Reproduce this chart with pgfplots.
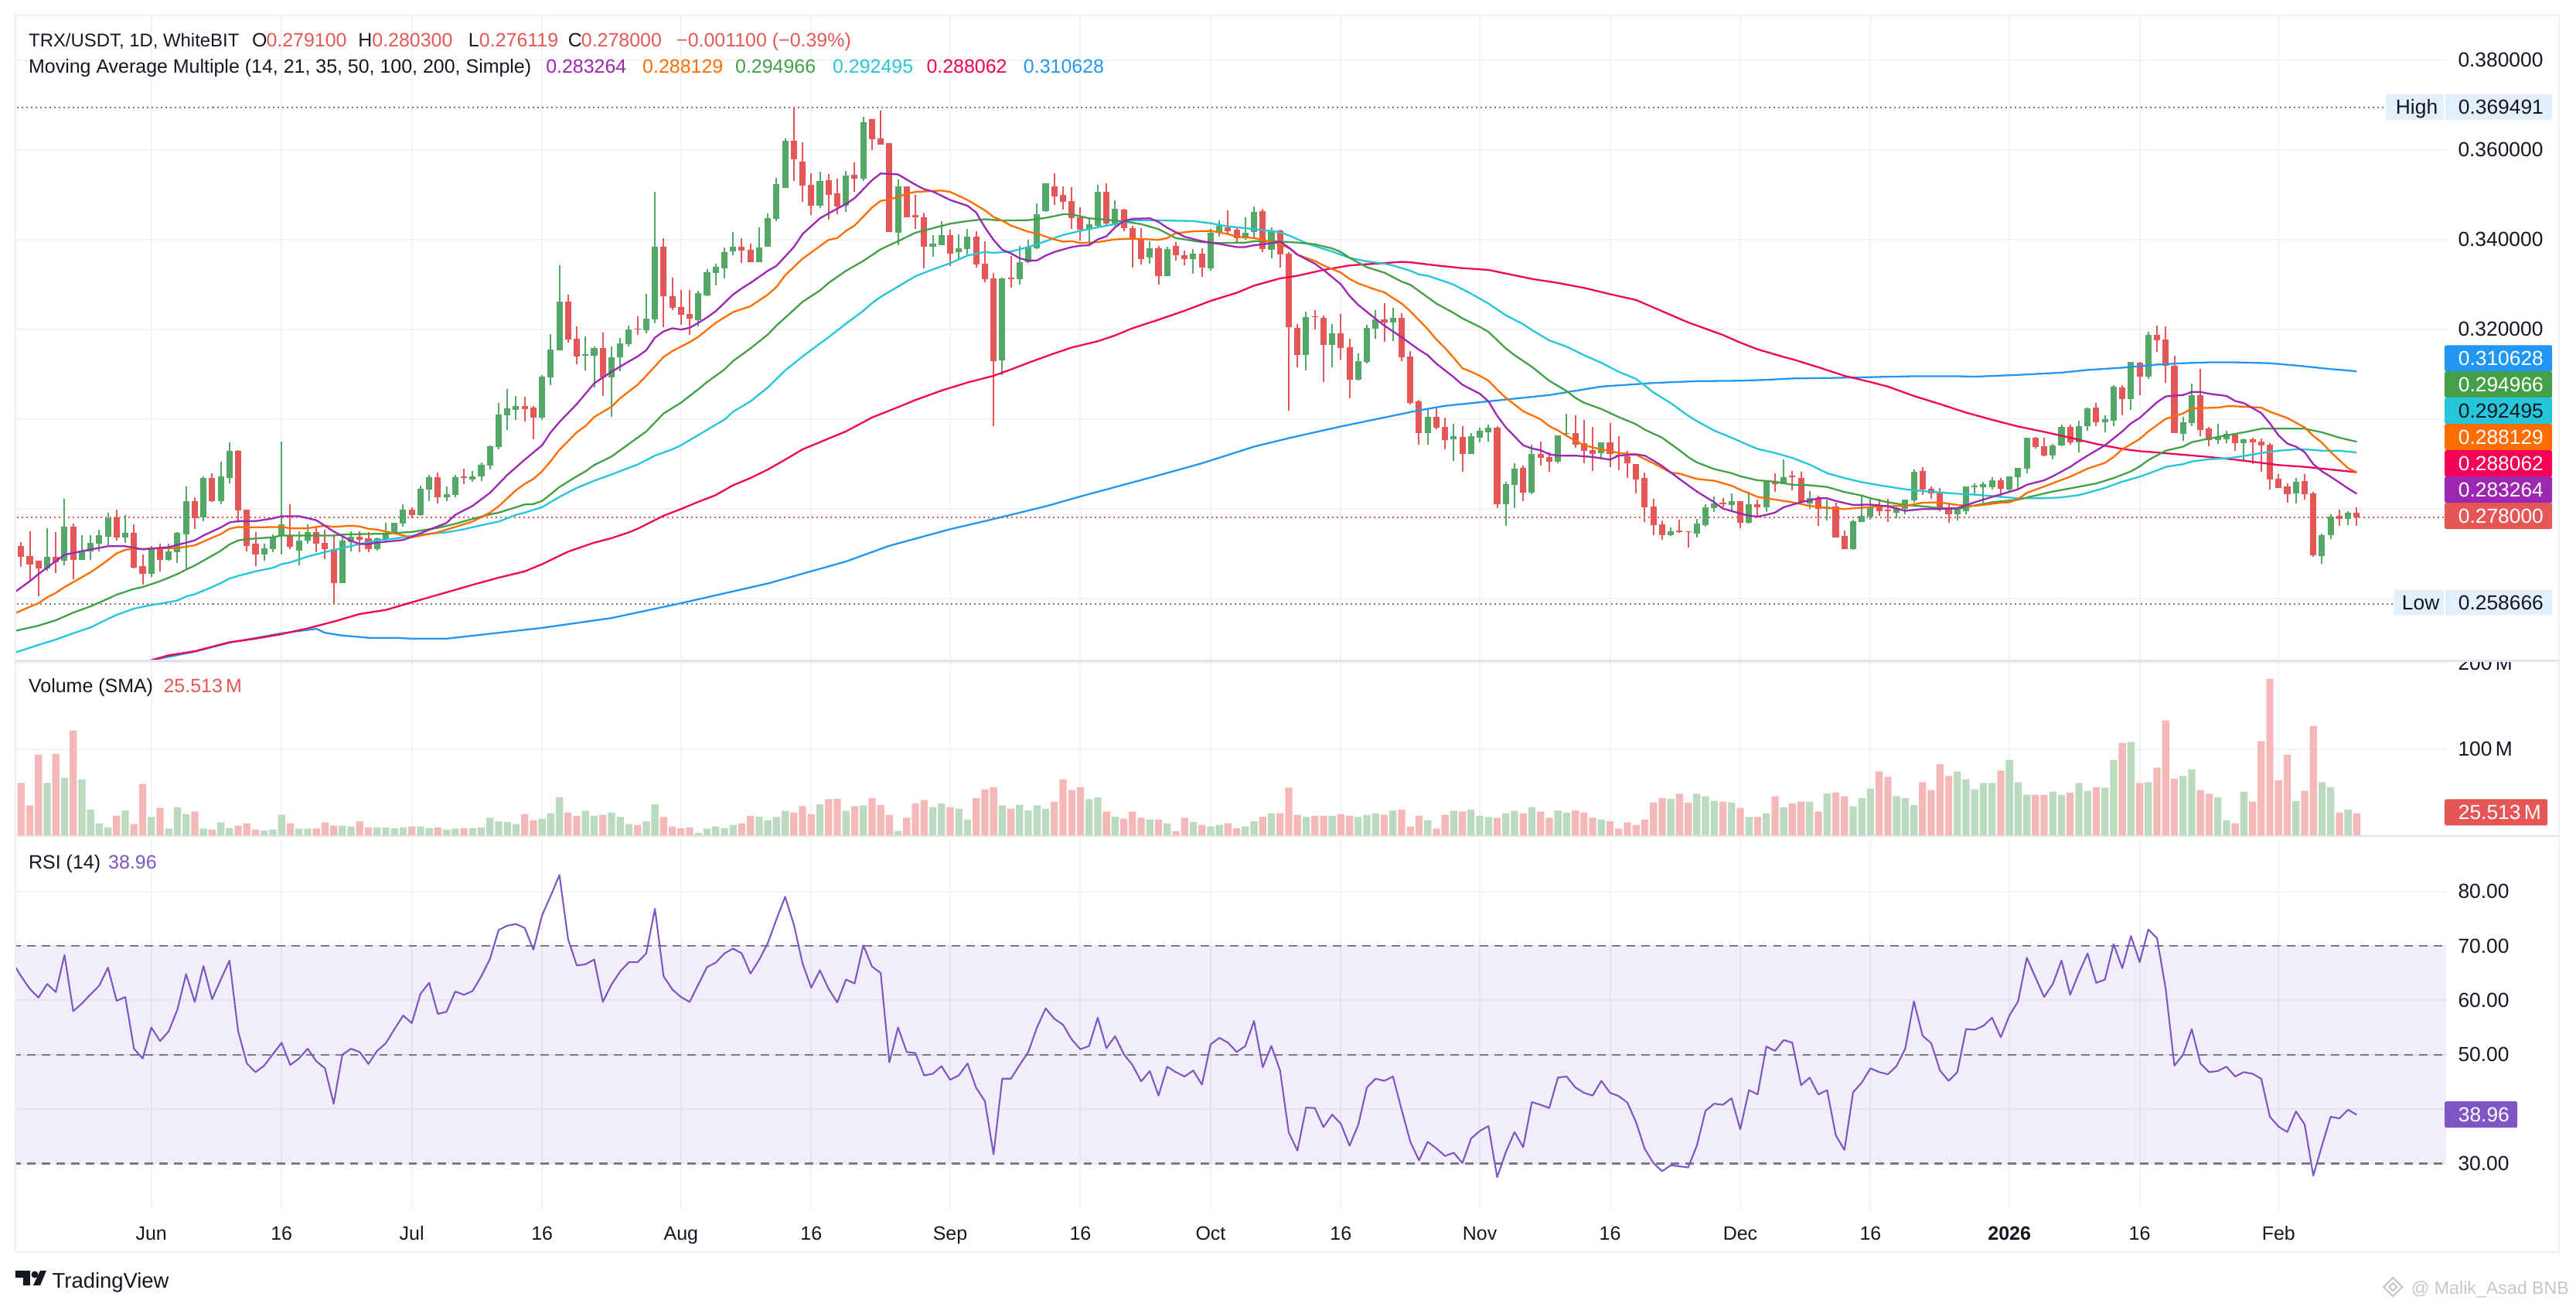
\documentclass[border=0pt]{standalone}
\usepackage{fontspec}
\setmainfont{Liberation Sans}
\usepackage{pgfplots}
\usepackage{pgfplotstable}
\pgfplotsset{compat=1.18}

\definecolor{cRed}{HTML}{E55757}
\definecolor{cGrn}{HTML}{53A867}
\definecolor{vRed}{HTML}{F5B8B8}
\definecolor{vGrn}{HTML}{BADBBF}
\definecolor{ma14}{HTML}{9C27B0}
\definecolor{ma21}{HTML}{FF6D00}
\definecolor{ma35}{HTML}{43A047}
\definecolor{ma50}{HTML}{26C6DA}
\definecolor{ma100}{HTML}{F50057}
\definecolor{ma200}{HTML}{2196F3}
\definecolor{rsi}{HTML}{7E57C2}
\definecolor{gridc}{HTML}{F1F2F6}
\definecolor{sepc}{HTML}{E3E3EE}
\definecolor{frame}{HTML}{EFF0F4}
\definecolor{dashc}{HTML}{787B86}
\definecolor{ink}{HTML}{131722}
\definecolor{lowbox}{HTML}{E3EFFC}

% d = days from 1 Jun 2025
% rising days
\pgfplotstableread{
d o h l c v
-12 .2666 .2757 .2662 .2693 60.6
-10 .2683 .2822 .2673 .2759 66.8
-8 .2686 .2740 .2686 .2705 64.9
-7 .2705 .2740 .2686 .2724 29.8
-6 .2722 .2752 .2704 .2740 13.9
-5 .2738 .2790 .2719 .2779 9.1
-3 .2736 .2785 .2724 .2745 28.8
0 .2655 .2717 .2648 .2709 21.2
2 .2686 .2721 .2683 .2704 7.7
3 .2702 .2748 .2678 .2745 32.7
4 .2743 .2850 .2663 .2817 24.5
6 .2781 .2871 .2772 .2869 7.7
8 .2817 .2904 .2810 .2871 14.9
9 .2869 .2948 .2857 .2928 8.2
13 .2697 .2722 .2684 .2712 5.3
14 .2710 .2743 .2702 .2738 6.7
15 .2740 .2950 .2698 .2764 23.6
17 .2707 .2750 .2674 .2729 7.7
18 .2728 .2764 .2721 .2748 7.7
22 .2634 .2737 .2634 .2728 11.1
23 .2726 .2750 .2705 .2738 10.1
26 .2709 .2736 .2707 .2733 9.1
27 .2731 .2769 .2728 .2745 9.1
28 .2745 .2769 .2743 .2769 8.2
29 .2767 .2809 .2759 .2798 9.1
31 .2786 .2851 .2784 .2844 10.1
32 .2843 .2875 .2817 .2870 8.2
34 .2825 .2849 .2817 .2832 6.7
35 .2830 .2875 .2825 .2870 7.7
37 .2865 .2884 .2860 .2872 8.2
38 .2872 .2903 .2862 .2898 9.1
39 .2896 .2941 .2887 .2939 20.2
40 .2937 .3036 .2932 .3010 16.3
41 .3008 .3067 .2975 .3024 15.4
42 .3020 .3051 .2998 .3029 13.0
45 .3003 .3098 .2998 .3094 19.2
46 .3093 .3189 .3075 .3155 25.5
47 .3153 .3343 .3153 .3262 44.2
50 .3141 .3184 .3108 .3144 28.4
51 .3141 .3162 .3070 .3158 22.6
53 .3093 .3162 .3005 .3137 26.4
54 .3137 .3180 .3106 .3168 21.2
55 .3167 .3208 .3162 .3199 13.0
57 .3198 .3279 .3191 .3224 16.3
58 .3222 .3506 .3213 .3384 36.1
63 .3220 .3286 .3206 .3280 2.9
64 .3275 .3334 .3274 .3327 7.7
65 .3325 .3346 .3298 .3339 10.1
66 .3336 .3382 .3313 .3372 8.2
67 .3374 .3417 .3365 .3384 12.0
70 .3349 .3427 .3349 .3382 21.6
71 .3384 .3458 .3384 .3448 17.3
72 .3446 .3537 .3441 .3524 21.2
73 .3515 .3625 .3515 .3620 28.4
77 .3475 .3551 .3470 .3530 36.1
80 .3475 .3552 .3461 .3542 28.4
82 .3535 .3673 .3530 .3661 34.6
86 .3414 .3533 .3388 .3519 4.8
90 .3383 .3409 .3361 .3390 32.7
91 .3388 .3440 .3388 .3409 37.0
93 .3371 .3411 .3354 .3380 30.8
94 .3378 .3423 .3366 .3407 18.3
98 .3131 .3314 .3097 .3313 34.6
100 .3311 .3385 .3300 .3350 35.1
101 .3349 .3400 .3347 .3383 28.8
102 .3381 .3480 .3380 .3457 34.6
103 .3463 .3525 .3461 .3525 30.8
108 .3421 .3447 .3388 .3433 41.8
109 .3431 .3521 .3425 .3506 44.2
111 .3435 .3487 .3430 .3468 21.6
115 .3359 .3395 .3345 .3380 18.3
117 .3318 .3383 .3318 .3378 13.9
120 .3356 .3378 .3323 .3369 15.4
122 .3335 .3423 .3331 .3414 10.1
123 .3414 .3442 .3407 .3430 12.0
126 .3402 .3449 .3399 .3414 10.1
127 .3416 .3473 .3404 .3461 16.3
129 .3377 .3426 .3358 .3420 25.5
133 .3143 .3239 .3108 .3227 21.2
136 .3165 .3212 .3115 .3191 22.6
139 .3088 .3146 .3086 .3129 21.2
140 .3127 .3210 .3124 .3203 23.6
141 .3201 .3243 .3179 .3222 25.5
143 .3215 .3248 .3174 .3226 28.8
147 .2969 .3022 .2943 .3005 17.3
150 .2955 .2989 .2907 .2962 28.4
152 .2922 .2969 .2922 .2962 29.8
153 .2958 .2981 .2948 .2974 22.6
154 .2970 .2988 .2950 .2981 21.2
156 .2810 .2860 .2762 .2855 25.5
157 .2853 .2901 .2801 .2889 28.4
159 .2836 .2943 .2832 .2922 32.7
162 .2905 .2963 .2901 .2963 28.8
163 .2966 .3012 .2963 .2968 26.4
167 .2924 .2948 .2910 .2948 18.3
175 .2741 .2758 .2739 .2750 42.3
178 .2744 .2777 .2736 .2767 48.1
179 .2763 .2810 .2760 .2803 45.2
180 .2801 .2827 .2793 .2812 39.9
182 .2808 .2834 .2794 .2817 38.0
184 .2768 .2837 .2767 .2810 21.2
186 .2803 .2863 .2793 .2863 25.5
188 .2855 .2910 .2855 .2870 32.7
191 .2812 .2839 .2799 .2824 38.9
193 .2799 .2820 .2774 .2805 48.6
196 .2710 .2775 .2708 .2772 33.7
197 .2770 .2829 .2770 .2784 43.3
198 .2782 .2822 .2775 .2803 54.3
201 .2791 .2808 .2779 .2801 45.2
202 .2799 .2820 .2787 .2820 43.3
203 .2818 .2887 .2813 .2882 35.1
208 .2787 .2803 .2774 .2798 74.0
209 .2794 .2849 .2787 .2849 64.9
210 .2848 .2856 .2832 .2851 53.4
211 .2848 .2860 .2813 .2855 60.6
212 .2848 .2870 .2843 .2863 60.6
214 .2843 .2872 .2839 .2872 87.5
215 .2870 .2891 .2844 .2891 61.5
216 .2889 .2958 .2879 .2958 47.1
219 .2918 .2944 .2910 .2941 50.5
220 .2941 .2987 .2939 .2982 47.1
222 .2948 .2996 .2925 .2984 60.6
223 .2984 .3025 .2974 .3024 51.4
225 .2993 .3008 .2970 .2999 55.3
226 .2996 .3075 .2984 .3072 87.5
228 .3044 .3127 .3020 .3127 108.2
230 .3094 .3194 .3089 .3187 61.5
234 .2967 .3005 .2951 .2993 68.8
235 .2991 .3079 .2984 .3053 76.4
238 .2953 .2989 .2944 .2960 44.2
239 .2955 .2974 .2946 .2967 17.3
241 .2946 .2956 .2908 .2955 50.5
247 .2834 .2868 .2812 .2860 39.9
250 .2694 .2744 .2677 .2741 61.5
251 .2741 .2787 .2732 .2782 55.8
253 .2777 .2794 .2763 .2791 29.8
}\up

% falling days
\pgfplotstableread{
d o h l c v
-15 .2717 .2726 .2670 .2692 60.6
-14 .2695 .2750 .2638 .2676 34.6
-13 .2683 .2683 .2605 .2666 93.8
-11 .2693 .2747 .2657 .2681 94.7
-9 .2759 .2766 .2643 .2686 121.6
-4 .2781 .2798 .2729 .2736 22.6
-2 .2745 .2764 .2667 .2669 13.0
-1 .2671 .2698 .2631 .2655 59.6
1 .2709 .2721 .2660 .2686 31.7
5 .2817 .2826 .2755 .2778 27.4
7 .2869 .2878 .2814 .2817 6.7
10 .2928 .2931 .2769 .2795 11.1
11 .2797 .2798 .2705 .2717 13.9
12 .2721 .2747 .2671 .2697 6.7
16 .2741 .2809 .2710 .2714 13.9
19 .2748 .2762 .2702 .2722 7.7
20 .2724 .2752 .2688 .2709 14.9
21 .2710 .2741 .2587 .2634 11.1
24 .2738 .2750 .2703 .2731 16.3
25 .2733 .2748 .2702 .2709 9.1
30 .2798 .2803 .2778 .2786 10.1
33 .2870 .2880 .2812 .2825 9.1
36 .2872 .2889 .2855 .2868 8.2
43 .3029 .3049 .2994 .3022 24.5
44 .3025 .3029 .2955 .3003 17.3
48 .3262 .3277 .3170 .3177 26.4
49 .3179 .3206 .3122 .3139 22.6
52 .3158 .3193 .3051 .3093 23.6
56 .3201 .3229 .3187 .3199 12.0
59 .3384 .3403 .3205 .3274 21.2
60 .3274 .3315 .3243 .3248 10.1
61 .3249 .3287 .3210 .3232 8.2
62 .3234 .3287 .3187 .3224 9.1
68 .3384 .3403 .3348 .3375 13.9
69 .3377 .3391 .3349 .3349 22.6
74 .3620 .3695 .3530 .3578 26.4
75 .3574 .3617 .3484 .3520 33.7
76 .3522 .3548 .3455 .3475 24.5
78 .3532 .3546 .3444 .3499 41.8
79 .3502 .3535 .3457 .3473 42.3
81 .3544 .3571 .3506 .3535 33.7
83 .3668 .3669 .3600 .3623 43.3
84 .3625 .3687 .3612 .3612 35.1
85 .3614 .3614 .3416 .3416 23.6
87 .3518 .3519 .3449 .3450 20.2
88 .3454 .3499 .3423 .3450 37.0
89 .3449 .3459 .3335 .3383 40.9
92 .3409 .3421 .3340 .3369 32.7
95 .3406 .3418 .3337 .3344 43.3
96 .3345 .3395 .3304 .3311 53.4
97 .3313 .3325 .2984 .3128 55.8
99 .3314 .3363 .3292 .3311 30.8
104 .3519 .3547 .3476 .3495 38.9
105 .3499 .3518 .3466 .3483 64.9
106 .3485 .3516 .3423 .3447 52.4
107 .3449 .3471 .3397 .3421 55.8
110 .3506 .3525 .3431 .3435 27.4
112 .3466 .3468 .3418 .3425 19.2
113 .3425 .3431 .3338 .3399 27.4
114 .3400 .3425 .3344 .3357 20.2
116 .3380 .3385 .3300 .3318 18.3
118 .3385 .3394 .3352 .3364 4.8
119 .3364 .3375 .3342 .3356 20.2
121 .3368 .3380 .3316 .3337 12.0
124 .3426 .3464 .3413 .3418 13.9
125 .3421 .3428 .3394 .3402 8.2
128 .3463 .3469 .3371 .3378 21.6
130 .3420 .3422 .3338 .3367 25.5
131 .3369 .3372 .3019 .3205 55.3
132 .3203 .3212 .3115 .3143 23.6
134 .3229 .3243 .3200 .3227 22.6
135 .3226 .3231 .3082 .3165 22.6
137 .3191 .3234 .3132 .3158 24.5
138 .3160 .3179 .3046 .3088 22.6
142 .3222 .3258 .3172 .3215 23.6
144 .3226 .3236 .3129 .3138 29.8
145 .3139 .3151 .3032 .3036 10.1
146 .3039 .3043 .2943 .2969 22.6
148 .3005 .3024 .2977 .2981 7.7
149 .2982 .3003 .2932 .2953 23.6
151 .2960 .2984 .2882 .2922 27.4
155 .2981 .2984 .2801 .2810 20.2
158 .2891 .2895 .2817 .2836 25.5
160 .2922 .2950 .2896 .2913 27.4
161 .2915 .2926 .2882 .2905 20.2
164 .2969 .3008 .2936 .2943 28.8
165 .2946 .2998 .2901 .2929 26.4
166 .2931 .2982 .2884 .2922 20.2
168 .2948 .2991 .2893 .2922 16.3
169 .2920 .2962 .2886 .2917 7.7
170 .2917 .2929 .2869 .2901 14.9
171 .2900 .2900 .2834 .2865 12.0
172 .2869 .2881 .2770 .2803 18.3
173 .2805 .2822 .2741 .2763 38.0
174 .2765 .2774 .2731 .2741 43.3
176 .2751 .2776 .2746 .2748 48.1
177 .2750 .2750 .2713 .2747 38.0
181 .2813 .2824 .2803 .2810 38.9
183 .2817 .2817 .2756 .2768 31.7
185 .2810 .2820 .2780 .2803 21.2
187 .2862 .2879 .2837 .2855 45.2
189 .2874 .2884 .2841 .2870 37.0
190 .2868 .2882 .2813 .2814 38.9
192 .2824 .2829 .2762 .2799 27.4
194 .2805 .2813 .2736 .2736 49.5
195 .2739 .2751 .2710 .2710 45.2
199 .2803 .2822 .2784 .2794 74.0
200 .2798 .2822 .2770 .2794 67.8
204 .2884 .2893 .2830 .2843 61.5
205 .2844 .2849 .2822 .2834 52.4
206 .2836 .2846 .2794 .2799 82.7
207 .2803 .2809 .2768 .2787 68.8
213 .2863 .2868 .2824 .2844 75.0
217 .2958 .2960 .2934 .2937 47.1
218 .2939 .2958 .2917 .2918 47.1
221 .2982 .2987 .2943 .2948 49.5
224 .3025 .3036 .2984 .2993 55.8
227 .3070 .3075 .3008 .3044 107.2
229 .3125 .3127 .3053 .3094 60.6
231 .3187 .3208 .3149 .3175 78.4
232 .3177 .3206 .3080 .3118 133.2
233 .3118 .3141 .2968 .2968 65.9
236 .3053 .3112 .2962 .2975 52.4
237 .2979 .2982 .2939 .2953 48.1
240 .2965 .2967 .2929 .2946 13.9
242 .2955 .2958 .2899 .2948 38.9
243 .2949 .2956 .2882 .2941 109.1
244 .2943 .2946 .2843 .2865 181.7
245 .2867 .2877 .2846 .2846 63.9
246 .2849 .2856 .2813 .2832 93.8
248 .2862 .2877 .2820 .2832 51.4
249 .2834 .2837 .2693 .2696 126.9
252 .2784 .2798 .2762 .2777 26.4
254 .2791 .2803 .2761 .2780 25.5
}\dn

% 1 px of the reference = 0.01cm = 0.2845pt
\newcommand{\F}{\fontsize{7.5}{9}\selectfont}
\newcommand{\G}{\fontsize{7.1}{9}\selectfont}
\newcommand{\txt}[4]{\node[anchor=base west,inner sep=0pt,text=#3,font=\G] at (#1,#2) {#4};}
\newcommand{\stxt}[4]{\node[anchor=base west,inner sep=0pt,text=#3,font=\F] at (#1,#2) {#4};}
\newcommand{\valbox}[6]{%
  \fill[#4,rounded corners=0.6pt] (#1,#3-17) rectangle (#2,#3+17);
  \node[anchor=base west,inner sep=0pt,text=#5,font=\F] at (3181,#3+9.5) {#6};}

\pgfplotsset{
  pane/.style={
    scale only axis, width=31.44cm,
    xmin=-15.65, xmax=264.3,
    axis line style={draw=none},
    major tick length=0pt,
    grid=major, grid style={gridc,line width=0.57pt},
    xtick={0,15,30,45,61,76,92,107,122,137,153,168,183,198,214,229,245},
    ytick pos=right,
    yticklabel style={anchor=west,inner sep=0pt,xshift=4.2pt,font=\F,text=ink},
    xticklabel style={anchor=base,inner sep=0pt,font=\G,text=ink},
    clip=true,
  },
  wick/.style={draw=none,mark=none,forget plot,
    error bars/.cd,y dir=both,y explicit,error mark=none,
    error bar style={draw=#1,solid,line width=0.57pt,line cap=butt}},
  body/.style={draw=none,mark=none,forget plot,
    error bars/.cd,y dir=plus,y explicit,error mark=none,
    error bar style={draw=#1,solid,line width=2.3pt,line cap=butt}},
  ma/.style={#1,line width=0.65pt,mark=none,sharp plot,line join=round},
  volbar/.style={ybar,bar width=2.65pt,bar shift=0pt,fill=#1,draw=none},
  lvl/.style={line width=0.57pt,dash pattern=on 0.57pt off 1.14pt,mark=none,#1},
  rsidash/.style={dashc,line width=#1,dash pattern=on 3.1pt off 2.3pt,mark=none},
}

\begin{document}
\begin{tikzpicture}
\useasboundingbox (0,0) rectangle (33.32cm,-16.9cm);

% price pane
\begin{axis}[pane,at={(0.2cm,-8.54cm)},anchor=south west,height=8.34cm,
  ymin=0.24614,ymax=0.38993,
  ytick={0.26,0.28,0.30,0.32,0.34,0.36,0.38},
  yticklabels={,,,0.320000,0.340000,0.360000,0.380000},
  xticklabels={}]
\addplot[lvl=dashc] coordinates {(-16,0.369491)(257.5,0.369491)};
\addplot[lvl=dashc] coordinates {(-16,0.258666)(258.4,0.258666)};
\addplot[lvl=cRed] coordinates {(-16,0.278)(265,0.278)};
\addplot[wick=cGrn] table[x=d,y=o,y error plus expr=\thisrow{h}-\thisrow{o},y error minus expr=\thisrow{o}-\thisrow{l}] {\up};
\addplot[wick=cRed] table[x=d,y=o,y error plus expr=\thisrow{h}-\thisrow{o},y error minus expr=\thisrow{o}-\thisrow{l}] {\dn};
\addplot[body=cGrn] table[x=d,y=o,y error plus expr=\thisrow{c}-\thisrow{o}] {\up};
\addplot[body=cRed] table[x=d,y=c,y error plus expr=\thisrow{o}-\thisrow{c}] {\dn};
% MA 200
\addplot[ma=ma200] coordinates {(-1,.2452)(0,.2462)(5,.2481)(9,.2501)(15,.2522)(19,.2532)(20,.2523)(22,.2517)(25,.2512)(28,.2512)(30,.2510)(34,.2510)(45,.2534)(53,.2556)(61,.2589)(71,.2633)(80,.2682)(85,.2717)(92,.2754)(96,.2772)(103,.2805)(107,.2827)(116,.2874)(121,.2901)(127,.2938)(131,.2957)(137,.2983)(143,.3007)(146,.3019)(149,.3029)(155,.3041)(161,.3053)(167,.3072)(173,.3080)(178,.3084)(183,.3085)(186,.3087)(189,.3090)(193,.3091)(198,.3093)(203,.3095)(208,.3095)(210,.3094)(215,.3098)(220,.3103)(223,.3109)(227,.3114)(231,.3121)(234,.3124)(237,.3126)(240,.3126)(244,.3124)(247,.3119)(251,.3111)(254,.3106)};
% MA 100
\addplot[ma=ma100] coordinates {(-1,.2452)(0,.2462)(2,.2473)(5,.2482)(9,.2502)(12,.2510)(15,.2520)(18,.2533)(21,.2548)(24,.2565)(27,.2574)(30,.2591)(37,.2630)(40,.2646)(43,.2660)(45,.2676)(48,.2704)(51,.2724)(53,.2734)(55,.2747)(56,.2755)(59,.2784)(61,.2799)(63,.2815)(65,.2830)(67,.2852)(69,.2868)(71,.2887)(73,.2909)(75,.2932)(77,.2948)(80,.2972)(83,.3003)(86,.3026)(88,.3042)(91,.3063)(94,.3081)(97,.3096)(99,.3110)(101,.3125)(104,.3146)(106,.3159)(109,.3173)(111,.3186)(113,.3202)(116,.3221)(119,.3241)(122,.3263)(125,.3281)(127,.3297)(130,.3313)(132,.3319)(135,.3332)(138,.3342)(141,.3346)(144,.3350)(145,.3349)(148,.3342)(151,.3336)(154,.3332)(157,.3320)(159,.3312)(162,.3303)(165,.3292)(168,.3278)(171,.3265)(174,.3240)(177,.3215)(181,.3187)(183,.3170)(185,.3155)(188,.3138)(189,.3133)(192,.3115)(195,.3096)(198,.3082)(200,.3072)(203,.3051)(206,.3033)(209,.3014)(212,.2998)(215,.2983)(218,.2971)(221,.2958)(224,.2944)(227,.2933)(229,.2928)(231,.2925)(234,.2920)(237,.2915)(240,.2909)(243,.2902)(245,.2897)(248,.2893)(250,.2889)(252,.2885)(254,.2881)};
% MA 50
\addplot[ma=ma50] coordinates {(-16,.2477)(-13,.2496)(-11,.2508)(-9,.2522)(-7,.2535)(-5,.2554)(-4,.2563)(-2,.2577)(0,.2585)(1,.2588)(3,.2595)(4,.2604)(5,.2609)(7,.2625)(8,.2634)(9,.2644)(10,.2650)(12,.2660)(14,.2668)(15,.2676)(16,.2680)(18,.2693)(20,.2703)(22,.2712)(24,.2721)(26,.2729)(28,.2733)(30,.2739)(31,.2742)(34,.2747)(36,.2754)(38,.2763)(40,.2771)(42,.2786)(43,.2791)(45,.2803)(47,.2826)(49,.2846)(51,.2862)(53,.2876)(55,.2891)(56,.2898)(58,.2918)(60,.2932)(61,.2941)(63,.2964)(65,.2987)(66,.2998)(67,.3016)(69,.3039)(71,.3070)(73,.3108)(75,.3139)(77,.3168)(78,.3182)(80,.3212)(82,.3241)(83,.3258)(84,.3272)(86,.3295)(88,.3318)(90,.3333)(92,.3347)(94,.3364)(96,.3372)(97,.3370)(99,.3373)(101,.3383)(103,.3396)(105,.3410)(107,.3419)(109,.3427)(111,.3434)(113,.3442)(115,.3443)(117,.3442)(120,.3441)(122,.3436)(124,.3429)(126,.3425)(128,.3421)(130,.3416)(131,.3409)(133,.3392)(134,.3385)(136,.3373)(138,.3359)(140,.3351)(142,.3346)(143,.3342)(145,.3330)(146,.3322)(147,.3319)(149,.3306)(150,.3299)(152,.3279)(154,.3257)(156,.3231)(158,.3211)(159,.3198)(161,.3175)(163,.3161)(165,.3142)(167,.3125)(169,.3105)(171,.3089)(173,.3059)(175,.3035)(177,.3007)(178,.2995)(180,.2974)(182,.2958)(184,.2941)(185,.2933)(187,.2924)(189,.2913)(191,.2898)(193,.2879)(195,.2868)(197,.2859)(199,.2852)(202,.2843)(204,.2839)(206,.2836)(208,.2833)(210,.2831)(212,.2828)(215,.2823)(218,.2823)(220,.2825)(222,.2830)(223,.2835)(225,.2846)(227,.2860)(229,.2871)(231,.2885)(232,.2893)(234,.2899)(235,.2905)(237,.2910)(239,.2912)(241,.2917)(243,.2924)(245,.2929)(247,.2932)(248,.2932)(250,.2929)(252,.2929)(254,.2925)};
% MA 35
\addplot[ma=ma35] coordinates {(-16,.2526)(-13,.2539)(-11,.2551)(-9,.2568)(-7,.2582)(-5,.2599)(-4,.2608)(-2,.2621)(-1,.2625)(1,.2638)(3,.2654)(4,.2664)(5,.2673)(7,.2695)(8,.2706)(9,.2720)(10,.2729)(11,.2732)(14,.2736)(15,.2740)(18,.2740)(21,.2740)(22,.2742)(24,.2743)(27,.2744)(30,.2748)(33,.2757)(35,.2766)(37,.2777)(39,.2787)(40,.2791)(42,.2803)(43,.2809)(44,.2810)(45,.2817)(46,.2832)(47,.2848)(49,.2872)(50,.2883)(51,.2897)(53,.2916)(55,.2944)(57,.2972)(59,.3012)(61,.3036)(63,.3066)(64,.3082)(66,.3110)(67,.3129)(69,.3157)(71,.3188)(72,.3208)(74,.3243)(75,.3261)(77,.3286)(78,.3303)(80,.3330)(82,.3352)(83,.3365)(84,.3378)(86,.3396)(88,.3415)(90,.3425)(92,.3435)(94,.3441)(96,.3445)(98,.3442)(101,.3443)(103,.3448)(105,.3456)(106,.3456)(108,.3447)(110,.3444)(112,.3440)(114,.3434)(116,.3423)(118,.3403)(119,.3400)(121,.3394)(123,.3392)(126,.3393)(127,.3396)(130,.3395)(132,.3393)(134,.3389)(136,.3380)(137,.3372)(138,.3359)(140,.3338)(142,.3326)(144,.3306)(145,.3299)(146,.3285)(148,.3257)(150,.3236)(151,.3224)(153,.3205)(154,.3194)(156,.3157)(157,.3142)(159,.3116)(161,.3085)(163,.3062)(164,.3047)(165,.3036)(167,.3022)(169,.3004)(171,.2988)(172,.2976)(174,.2958)(176,.2930)(177,.2915)(178,.2903)(180,.2888)(182,.2879)(183,.2872)(185,.2863)(187,.2860)(189,.2853)(191,.2852)(193,.2848)(195,.2837)(197,.2829)(198,.2823)(200,.2814)(202,.2808)(204,.2805)(206,.2801)(208,.2799)(210,.2807)(212,.2814)(215,.2820)(217,.2829)(219,.2838)(221,.2845)(224,.2856)(226,.2868)(228,.2883)(229,.2894)(230,.2908)(232,.2929)(234,.2938)(235,.2948)(237,.2956)(239,.2963)(241,.2970)(243,.2978)(245,.2978)(248,.2978)(250,.2970)(252,.2958)(254,.2949)};
% MA 21
\addplot[ma=ma21] coordinates {(-16,.2564)(-14,.2581)(-13,.2589)(-12,.2602)(-11,.2612)(-10,.2625)(-8,.2647)(-7,.2658)(-6,.2671)(-4,.2700)(-3,.2708)(-2,.2710)(-1,.2710)(1,.2712)(3,.2712)(5,.2718)(7,.2735)(8,.2743)(9,.2755)(10,.2759)(11,.2758)(15,.2759)(16,.2756)(18,.2756)(20,.2762)(21,.2759)(23,.2762)(24,.2760)(25,.2755)(26,.2753)(27,.2749)(29,.2740)(30,.2736)(33,.2747)(35,.2759)(37,.2771)(39,.2791)(40,.2805)(42,.2841)(43,.2855)(44,.2866)(45,.2883)(46,.2906)(47,.2931)(49,.2970)(50,.2984)(51,.3004)(53,.3027)(54,.3046)(56,.3076)(57,.3096)(59,.3138)(60,.3151)(62,.3171)(63,.3183)(65,.3214)(67,.3238)(69,.3251)(71,.3277)(72,.3294)(73,.3320)(75,.3357)(77,.3385)(78,.3399)(79,.3403)(80,.3419)(81,.3431)(83,.3471)(84,.3486)(85,.3489)(86,.3495)(87,.3502)(88,.3506)(90,.3508)(91,.3509)(92,.3506)(94,.3488)(96,.3465)(97,.3450)(98,.3442)(99,.3431)(101,.3417)(102,.3413)(104,.3400)(105,.3395)(106,.3396)(107,.3392)(109,.3394)(111,.3400)(113,.3402)(115,.3400)(116,.3399)(117,.3403)(118,.3414)(120,.3418)(122,.3419)(124,.3412)(125,.3406)(127,.3403)(130,.3390)(131,.3381)(132,.3366)(134,.3352)(135,.3342)(137,.3326)(138,.3312)(139,.3302)(141,.3288)(142,.3282)(144,.3257)(145,.3240)(146,.3220)(147,.3200)(148,.3177)(149,.3158)(150,.3136)(151,.3113)(152,.3105)(153,.3096)(154,.3085)(155,.3065)(156,.3047)(158,.3017)(160,.2999)(161,.2984)(162,.2974)(164,.2951)(165,.2941)(167,.2932)(169,.2924)(171,.2920)(173,.2901)(175,.2880)(176,.2878)(178,.2866)(180,.2862)(182,.2851)(183,.2842)(185,.2826)(187,.2820)(189,.2814)(191,.2806)(193,.2801)(195,.2799)(197,.2802)(199,.2805)(202,.2806)(204,.2813)(206,.2814)(208,.2808)(210,.2806)(213,.2813)(214,.2814)(215,.2821)(216,.2835)(218,.2849)(220,.2864)(221,.2871)(223,.2889)(225,.2902)(226,.2915)(227,.2932)(229,.2955)(230,.2972)(232,.3000)(234,.3012)(235,.3023)(236,.3024)(238,.3025)(239,.3028)(240,.3028)(242,.3026)(243,.3025)(244,.3016)(246,.3002)(248,.2981)(249,.2962)(250,.2947)(251,.2926)(253,.2890)(254,.2881)};
% MA 14
\addplot[ma=ma14] coordinates {(-16,.2610)(-14,.2638)(-13,.2654)(-11,.2683)(-10,.2697)(-8,.2705)(-5,.2716)(-3,.2716)(-1,.2709)(2,.2714)(5,.2729)(6,.2740)(8,.2758)(9,.2769)(10,.2772)(12,.2772)(14,.2778)(15,.2783)(17,.2783)(19,.2774)(21,.2749)(23,.2728)(24,.2721)(25,.2721)(26,.2724)(29,.2730)(30,.2737)(31,.2745)(34,.2768)(35,.2786)(37,.2806)(39,.2835)(41,.2875)(43,.2909)(45,.2941)(46,.2970)(47,.2993)(49,.3033)(50,.3056)(51,.3079)(53,.3105)(55,.3128)(56,.3139)(57,.3153)(58,.3181)(59,.3195)(60,.3202)(61,.3199)(62,.3203)(63,.3214)(64,.3226)(65,.3240)(67,.3277)(68,.3291)(69,.3303)(71,.3330)(72,.3341)(74,.3383)(75,.3412)(77,.3447)(78,.3458)(80,.3479)(81,.3492)(83,.3532)(84,.3547)(86,.3545)(88,.3522)(89,.3512)(90,.3507)(92,.3488)(94,.3475)(95,.3460)(96,.3427)(97,.3399)(98,.3377)(99,.3369)(100,.3358)(101,.3353)(102,.3353)(103,.3364)(104,.3372)(106,.3383)(107,.3386)(108,.3387)(109,.3400)(110,.3407)(111,.3427)(112,.3441)(113,.3446)(115,.3447)(116,.3439)(117,.3426)(119,.3406)(121,.3396)(123,.3390)(125,.3383)(126,.3383)(127,.3387)(128,.3389)(130,.3395)(131,.3382)(132,.3366)(134,.3346)(135,.3332)(137,.3300)(138,.3274)(139,.3254)(141,.3223)(142,.3208)(144,.3182)(146,.3154)(147,.3142)(148,.3123)(150,.3093)(151,.3076)(153,.3056)(154,.3039)(155,.3007)(156,.2981)(157,.2961)(158,.2941)(159,.2934)(160,.2930)(161,.2921)(162,.2918)(164,.2918)(166,.2915)(168,.2909)(169,.2918)(171,.2921)(172,.2918)(173,.2907)(174,.2895)(176,.2866)(177,.2852)(178,.2838)(180,.2814)(181,.2800)(183,.2789)(184,.2784)(185,.2782)(186,.2786)(187,.2791)(188,.2803)(190,.2814)(192,.2823)(193,.2823)(194,.2817)(196,.2808)(198,.2809)(200,.2805)(202,.2795)(204,.2799)(206,.2799)(208,.2801)(210,.2814)(212,.2826)(215,.2843)(216,.2853)(218,.2863)(219,.2872)(221,.2893)(222,.2906)(223,.2918)(225,.2941)(227,.2972)(228,.2990)(229,.3002)(231,.3037)(232,.3050)(234,.3053)(235,.3060)(236,.3060)(237,.3056)(239,.3051)(240,.3040)(241,.3035)(243,.3013)(244,.2990)(245,.2963)(246,.2945)(247,.2938)(248,.2926)(249,.2899)(250,.2883)(251,.2871)(252,.2858)(253,.2845)(254,.2833)};
\end{axis}

% volume pane
\begin{axis}[pane,at={(0.2cm,-10.81cm)},anchor=south west,height=2.24cm,
  ymin=-0.9,ymax=200.2,ytick={100,200},yticklabels={100\,M,200\,M},xticklabels={}]
\addplot[volbar=vGrn] table[x=d,y=v] {\up};
\addplot[volbar=vRed] table[x=d,y=v] {\dn};
\end{axis}

% RSI pane
\begin{axis}[pane,at={(0.2cm,-15.63cm)},anchor=south west,height=4.78cm,
  ymin=21.7,ymax=89.6,ytick={30,40,50,60,70,80},
  yticklabels={30.00,,50.00,60.00,70.00,80.00},
  xticklabels={Jun,16,Jul,16,Aug,16,Sep,16,Oct,16,Nov,16,Dec,16,\textbf{2026},16,Feb},
  xticklabel style={yshift=-11.4pt}]
\addplot[fill=rsi,fill opacity=0.1,draw=none] coordinates {(-16,30)(265,30)(265,70)(-16,70)} \closedcycle;
\addplot[rsidash=0.65pt] coordinates {(-16,70)(265,70)};
\addplot[rsidash=0.5pt] coordinates {(-16,50)(265,50)};
\addplot[rsidash=0.65pt] coordinates {(-16,30)(265,30)};
\addplot[rsi,line width=0.6pt,mark=none,sharp plot,line join=round] coordinates {
(-16,67)(-15,64.4)(-14,62.1)(-13,60.5)(-12,63.0)(-11,61.5)(-10,68.3)(-9,58.0)(-8,59.4)(-7,61.1)(-6,62.7)(-5,66.0)(-4,59.9)(-3,60.6)(-2,51.1)(-1,49.3)
(0,55.0)(1,52.5)(2,54.3)(3,58.3)(4,64.8)(5,59.7)(6,66.3)(7,60.2)(8,63.8)(9,67.3)(10,54.3)(11,48.4)(12,46.8)(13,48.0)(14,50.1)
(15,52.2)(16,48.1)(17,49.3)(18,51.1)(19,48.8)(20,47.5)(21,41.0)(22,50.0)(23,51.1)(24,50.5)(25,48.3)(26,50.7)(27,52.1)(28,54.7)(29,57.2)
(30,55.8)(31,61.2)(32,63.2)(33,57.5)(34,57.9)(35,61.6)(36,61.0)(37,61.7)(38,64.4)(39,67.6)(40,72.9)(41,73.7)(42,74.0)(43,73.3)(44,69.3)
(45,75.6)(46,79.2)(47,83.0)(48,71.2)(49,66.4)(50,66.6)(51,67.5)(52,59.7)(53,62.9)(54,65.3)(55,67.0)(56,67.0)(57,68.6)(58,76.8)(59,64.4)
(60,62.0)(61,60.6)(62,59.7)(63,62.9)(64,66.1)(65,66.9)(66,68.6)(67,69.5)(68,68.6)(69,64.9)(70,67.4)(71,70.5)(72,74.9)(73,79.0)(74,73.9)
(75,66.8)(76,62.3)(77,65.5)(78,62.1)(79,59.6)(80,63.8)(81,63.1)(82,70.1)(83,66.2)(84,65.0)(85,48.6)(86,55.0)(87,50.5)(88,50.3)(89,46.2)
(90,46.5)(91,47.9)(92,45.4)(93,46.2)(94,48.4)(95,43.9)(96,41.5)(97,31.7)(98,45.6)(99,45.6)(100,48.1)(101,50.5)(102,55.0)(103,58.5)(104,56.6)
(105,55.5)(106,52.8)(107,51.0)(108,51.6)(109,56.8)(110,51.2)(111,53.4)(112,50.1)(113,48.1)(114,45.1)(115,47.0)(116,42.5)(117,47.8)(118,46.8)(119,46.0)
(120,47.1)(121,44.5)(122,51.9)(123,53.1)(124,52.2)(125,50.5)(126,51.6)(127,56.2)(128,47.7)(129,51.6)(130,47.1)(131,35.7)(132,32.4)(133,40.3)(134,40.2)
(135,36.7)(136,39.0)(137,37.3)(138,33.3)(139,37.1)(140,44.0)(141,45.6)(142,45.2)(143,46.0)(144,39.9)(145,34.0)(146,30.6)(147,34.0)(148,32.8)(149,31.4)
(150,32.0)(151,30.1)(152,34.6)(153,36.0)(154,36.9)(155,27.5)(156,32.1)(157,35.8)(158,33.0)(159,41.3)(160,40.8)(161,40.2)(162,45.8)(163,46.0)(164,44.0)
(165,43.0)(166,42.5)(167,45.2)(168,43.0)(169,42.4)(170,41.2)(171,37.6)(172,32.7)(173,30.1)(174,28.6)(175,29.7)(176,29.5)(177,29.3)(178,33.3)(179,39.7)
(180,41.0)(181,40.8)(182,42.0)(183,36.3)(184,43.5)(185,42.7)(186,51.5)(187,50.7)(188,52.7)(189,52.2)(190,44.4)(191,45.8)(192,42.7)(193,43.5)(194,35.2)
(195,32.5)(196,43.1)(197,44.9)(198,47.5)(199,46.8)(200,46.4)(201,47.9)(202,51.1)(203,59.8)(204,53.5)(205,52.1)(206,47.1)(207,45.2)(208,46.8)(209,54.7)
(210,54.6)(211,55.3)(212,56.8)(213,53.2)(214,57.2)(215,59.8)(216,67.8)(217,64.2)(218,60.6)(219,63.0)(220,67.3)(221,61.0)(222,65.0)(223,68.6)(224,63.2)
(225,63.8)(226,70.3)(227,65.9)(228,71.8)(229,67.0)(230,73.0)(231,71.4)(232,62.1)(233,48.0)(234,50.0)(235,54.7)(236,48.4)(237,46.8)(238,47.0)(239,47.8)
(240,46.0)(241,46.8)(242,46.5)(243,45.6)(244,38.6)(245,36.8)(246,35.8)(247,39.6)(248,37.2)(249,27.8)(250,33.3)(251,38.6)(252,38.3)(253,39.9)(254,38.96)};
\end{axis}

\begin{scope}[x=0.01cm,y=-0.01cm]
% 200 M is cut off by the pane edge
\fill[white] (3165,835) rectangle (3330,855);
% frame and pane separators
\draw[frame,line width=0.57pt] (20,20) rectangle (3312,1620);
\draw[sepc,line width=0.6pt] (20,855) -- (3312,855);
\draw[sepc,line width=0.6pt] (20,1082) -- (3312,1082);
% legend
\node[anchor=base west,inner sep=0pt,text=ink,font=\fontsize{6.8}{9}\selectfont] at (36.5,61) {TRX/USDT, 1D, WhiteBIT};
\txt{325.6}{61}{ink}{O}\txt{344}{61}{cRed}{0.279100}
\txt{463}{61}{ink}{H}\txt{481}{61}{cRed}{0.280300}
\txt{605.6}{61}{ink}{L}\txt{619.6}{61}{cRed}{0.276119}
\txt{734.7}{61}{ink}{C}\txt{751.6}{61}{cRed}{0.278000}
\txt{875}{61}{cRed}{−0.001100 (−0.39\%)}
\txt{36.5}{95}{ink}{Moving Average Multiple (14, 21, 35, 50, 100, 200, Simple)}
\txt{706}{95}{ma14}{0.283264}
\txt{831}{95}{ma21}{0.288129}
\txt{951}{95}{ma35}{0.294966}
\txt{1077}{95}{ma50}{0.292495}
\txt{1198.5}{95}{ma100}{0.288062}
\txt{1324}{95}{ma200}{0.310628}
\txt{36.5}{896}{ink}{Volume (SMA)}
\txt{211}{896}{cRed}{25.513\,M}
\txt{36.5}{1124}{ink}{RSI (14)}
\txt{139.6}{1124}{rsi}{38.96}
% price scale tags
\fill[lowbox,rounded corners=0.6pt] (3088,122) rectangle (3303,155);
\fill[white] (3162.5,122) rectangle (3164.5,155);
\stxt{3100}{148}{ink}{High}\stxt{3181}{148}{ink}{0.369491}
\fill[lowbox,rounded corners=0.6pt] (3098,763) rectangle (3303,796);
\fill[white] (3162.5,763) rectangle (3164.5,796);
\stxt{3108}{789}{ink}{Low}\stxt{3181}{789}{ink}{0.258666}
\valbox{3164}{3303}{463.6}{ma200}{white}{0.310628}
\valbox{3164}{3303}{497.5}{ma35}{white}{0.294966}
\valbox{3164}{3303}{531.5}{ma50}{ink}{0.292495}
\valbox{3164}{3303}{565.5}{ma21}{white}{0.288129}
\valbox{3164}{3303}{599.5}{ma100}{white}{0.288062}
\valbox{3164}{3303}{633.5}{ma14}{white}{0.283264}
\valbox{3164}{3303}{667.5}{cRed}{white}{0.278000}
\valbox{3164}{3297}{1051}{cRed}{white}{25.513\,M}
\valbox{3164}{3258}{1442}{rsi}{white}{38.96}
% logo and watermark
\fill[ink] (20,1644) -- (39,1644) -- (39,1663) -- (30,1663) -- (30,1653) -- (20,1653) -- cycle;
\fill[ink] (45,1649) circle (4.5);
\fill[ink] (52,1644) -- (60,1644) -- (52,1663) -- (43,1663) -- cycle;
\node[anchor=base west,inner sep=0pt,text=ink,font=\fontsize{7.8}{10}\selectfont] at (67,1666) {TradingView};
\node[anchor=base west,inner sep=0pt,text=black!22,font=\fontsize{6.6}{10}\selectfont] at (3120,1674) {@ Malik\_Asad BNB};
\draw[black!22,line width=0.6pt] (3097,1653) -- (3109,1665) -- (3097,1677) -- (3085,1665) -- cycle;
\draw[black!22,line width=0.6pt] (3097,1660) -- (3102,1665) -- (3097,1670) -- (3092,1665) -- cycle;
\end{scope}
\end{tikzpicture}
\end{document}
